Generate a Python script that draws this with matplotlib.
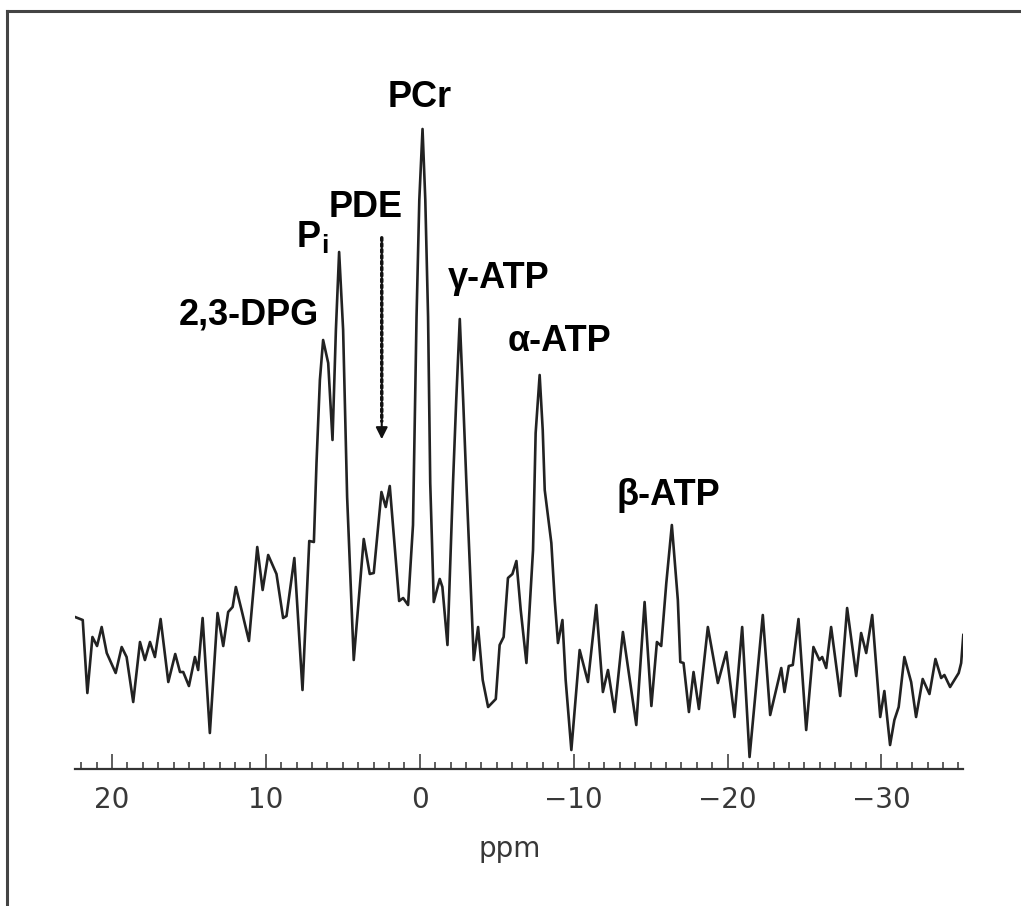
import numpy as np
import matplotlib.pyplot as plt
from matplotlib.lines import Line2D
from matplotlib.ticker import MultipleLocator

# 31P spectrum (ppm, arbitrary intensity)
ppm = [22.40, 21.90, 21.60, 21.27, 20.97, 20.67, 20.34, 19.76, 19.37, 19.05,
       18.62, 18.18, 17.86, 17.53, 17.21, 16.84, 16.34, 15.89, 15.58, 15.37,
       15.00, 14.61, 14.40, 14.11, 13.64, 13.14, 12.77, 12.45, 12.16, 11.95,
       11.58, 11.10, 10.56, 10.21, 9.85, 9.31, 8.88, 8.66, 8.15, 7.62,
       7.18, 6.88, 6.71, 6.49, 6.28, 5.95, 5.67, 5.45, 5.24, 4.98,
       4.72, 4.29, 3.64, 3.25, 2.99, 2.49, 2.21, 1.95, 1.34, 1.08,
       0.76, 0.44, 0.21, 0.03, -0.18, -0.36, -0.54, -0.68, -0.91, -1.30,
       -1.47, -1.80, -2.16, -2.37, -2.60, -2.82, -3.03, -3.51, -3.79, -4.09,
       -4.44, -4.94, -5.19, -5.45, -5.73, -6.02, -6.28, -6.56, -6.93, -7.36,
       -7.53, -7.79, -7.99, -8.12, -8.55, -8.77, -8.98, -9.27, -9.48, -9.85,
       -10.39, -10.93, -11.47, -11.90, -12.23, -12.66, -13.20, -14.07, -14.61, -15.05,
       -15.41, -15.69, -16.02, -16.38, -16.77, -16.93, -17.14, -17.49, -17.79, -18.14,
       -18.72, -19.37, -19.92, -20.45, -20.95, -21.43, -22.29, -22.77, -23.49, -23.70,
       -23.98, -24.24, -24.61, -25.11, -25.58, -25.97, -26.15, -26.41, -26.73, -27.32,
       -27.77, -28.36, -28.68, -29.01, -29.40, -29.92, -30.19, -30.56, -30.84, -31.12,
       -31.49, -31.93, -32.25, -32.68, -33.12, -33.51, -33.88, -34.09, -34.46, -35.02,
       -35.18, -35.32]
signal = [152, 149, 76, 132, 123, 142, 116, 96, 122, 112,
          67, 127, 109, 127, 112, 150, 87, 115, 97, 97,
          83, 112, 99, 151, 36, 156, 123, 157, 162, 182,
          159, 128, 222, 179, 214, 195, 151, 153, 211, 79,
          228, 227, 306, 389, 429, 406, 329, 439, 517, 439,
          272, 109, 230, 195, 196, 277, 262, 283, 168, 171,
          164, 244, 452, 569, 640, 569, 452, 286, 167, 190,
          182, 124, 286, 369, 450, 369, 286, 109, 142, 89,
          62, 70, 124, 132, 191, 195, 208, 159, 106, 219,
          336, 394, 339, 279, 226, 169, 126, 149, 89, 19,
          119, 87, 164, 77, 99, 57, 137, 44, 167, 63,
          127, 123, 186, 244, 169, 107, 106, 57, 97, 60,
          142, 86, 117, 52, 142, 12, 154, 54, 101, 77,
          103, 104, 150, 39, 122, 109, 112, 101, 142, 73,
          161, 93, 136, 116, 154, 52, 78, 24, 49, 62,
          112, 87, 52, 90, 75, 110, 91, 94, 82, 96,
          106, 134]

# peak labels: text, ppm, baseline height
labels = ['PCr', 'PDE', 'P', '2,3-DPG', 'γ-ATP', 'α-ATP', 'β-ATP']
label_ppm = [0.0, 3.51, 7.21, 11.1, -5.13, -9.09, -16.17]
label_y = [662, 552, 522, 444, 481, 418, 264]

fig = plt.figure(figsize=(10.21, 9.06), dpi=100)
ax = fig.add_axes([0.0735, 0.1512, 0.8697, 0.7826])

ax.plot(ppm, signal, color='#222222', lw=1.9, solid_joinstyle='round')
ax.set_xlim(22.4, -35.3)
ax.set_ylim(0, 709)

for s in ['top', 'left', 'right']:
    ax.spines[s].set_visible(False)
ax.spines['bottom'].set_linewidth(1.6)
ax.spines['bottom'].set_color('#333333')
ax.set_yticks([])
ax.xaxis.set_major_locator(MultipleLocator(10))
ax.xaxis.set_minor_locator(MultipleLocator(1))
ax.tick_params(axis='x', which='major', direction='in', length=11, width=1.1,
               color='#333333', labelsize=20, labelcolor='#383838', pad=12)
ax.tick_params(axis='x', which='minor', direction='in', length=5, width=1.1,
               color='#333333')
ax.set_xlabel('ppm', fontsize=20, color='#383838')
ax.xaxis.set_label_coords(0.49, -0.093)

for t, x, y in zip(labels, label_ppm, label_y):
    ax.text(x, y, t, ha='center', va='baseline', fontsize=26,
            fontweight='bold', family='Liberation Sans', clip_on=False)
# subscript of P_i
ax.text(6.17, 516, 'i', ha='center', va='baseline', fontsize=19,
        fontweight='bold', family='Liberation Sans')

# dotted arrow pointing at PDE
ax.annotate('', xy=(2.47, 345), xytext=(2.47, 534),
            arrowprops=dict(arrowstyle='-', lw=2.5, color='#111111',
                            linestyle=(0, (0.8, 0.9))))
ax.annotate('', xy=(2.47, 327), xytext=(2.47, 350),
            arrowprops=dict(arrowstyle='-|>,head_width=0.35,head_length=0.7',
                            lw=1.5, color='#111111'))

# frame (only left and top edges are visible in the picture)
fig.add_artist(Line2D([0.0069, 0.0069], [-0.05, 0.9879], color='#444444', lw=2.2))
fig.add_artist(Line2D([0.0069, 1.05], [0.9879, 0.9879], color='#444444', lw=2.2))

plt.savefig('out.png')
